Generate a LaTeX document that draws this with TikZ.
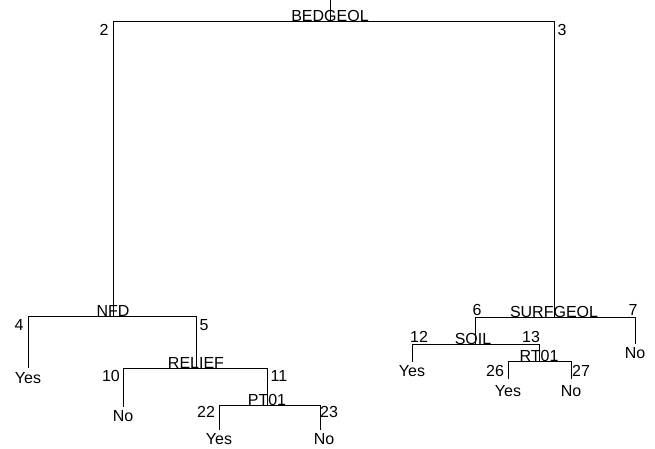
\documentclass[tikz,border=0pt]{standalone}
\usepackage{fontspec}
\setmainfont{Liberation Sans}
\usetikzlibrary{positioning}

\begin{document}
\begin{tikzpicture}[x=1pt, y=-1pt, line width=1pt,
                    split node/.style={anchor=base,inner sep=0pt,font=\fontsize{16}{18}\selectfont},
                    num node/.style={inner sep=0pt,font=\fontsize{16}{18}\selectfont},
                    leaf node/.style={inner sep=0pt,font=\fontsize{16}{18}\selectfont}]

  \useasboundingbox (0,0) rectangle (655,449);

  % split points and leaf ends
  \coordinate (0) at (330,0);
  \coordinate (1) at (330,22);
  \coordinate (2) at (113,316);
  \coordinate (3) at (554,317);
  \coordinate (4) at (28,368);
  \coordinate (5) at (196,368);
  \coordinate (6) at (475,344);
  \coordinate (7) at (635,344);
  \coordinate (10) at (123,407);
  \coordinate (11) at (267,405);
  \coordinate (12) at (412,362);
  \coordinate (13) at (539,361);
  \coordinate (22) at (219,430);
  \coordinate (23) at (320,430);
  \coordinate (26) at (508,379);
  \coordinate (27) at (571,379);

  % split variables
  \node[split node] (bedgeol) at (1) {BEDGEOL};
  \node[split node] (nfd) at (2) {NFD};
  \node[split node] (relief) at (5) {RELIEF};
  \node[split node] (pt01) at (11) {PT01};
  \node[split node] (surfgeol) at (3) {SURFGEOL};
  \node[split node] (soil) at ([xshift=-2pt]6) {SOIL};
  \node[split node] (rt01) at (13) {RT01};

  % node numbers
  \node[num node] (n2) at (104,30) {2};
  \node[num node] (n3) at (562,30) {3};
  \node[num node] (n4) at (19,325) {4};
  \node[num node] (n5) at (204,325) {5};
  \node[num node] (n10) at (111,376) {10};
  \node[num node] (n11) at (279,376) {11};
  \node[num node] (n22) at (206,412) {22};
  \node[num node] (n23) at (329,412) {23};
  \node[num node] (n6) at (477,310) {6};
  \node[num node] (n7) at (633,310) {7};
  \node[num node] (n12) at (419,337) {12};
  \node[num node] (n13) at (531,337) {13};
  \node[num node] (n26) at (495,371) {26};
  \node[num node] (n27) at (581,371) {27};

  % leaves
  \node[leaf node] (y4) [below=4pt of 4] {Yes};
  \node[leaf node] (no10) [below=3pt of 10] {No};
  \node[leaf node] (y22) [below=3pt of 22] {Yes};
  \node[leaf node] (no23) [below left=3pt and -4pt of 23, anchor=north] {No};
  \node[leaf node] (no7) [below=3pt of 7] {No};
  \node[leaf node] (y12) [below=3pt of 12] {Yes};
  \node[leaf node] (y26) [below=6pt of 26] {Yes};
  \node[leaf node] (no27) [below=6pt of 27] {No};

  \draw (0) -- (1);
  \draw (1) -| (2);
  \draw (1) -| (3);
  \draw (2) -| (4);
  \draw (2) -| (5);
  \draw (5) -| (10);
  \draw (5) -| (11);
  \draw (11) -| (22);
  \draw (11) -| (23);
  \draw (3) -| (6);
  \draw (3) -| (7);
  \draw (6) -| (12);
  \draw (6) -| (13);
  \draw (13) -| (26);
  \draw (13) -| (27);

\end{tikzpicture}
\end{document}
